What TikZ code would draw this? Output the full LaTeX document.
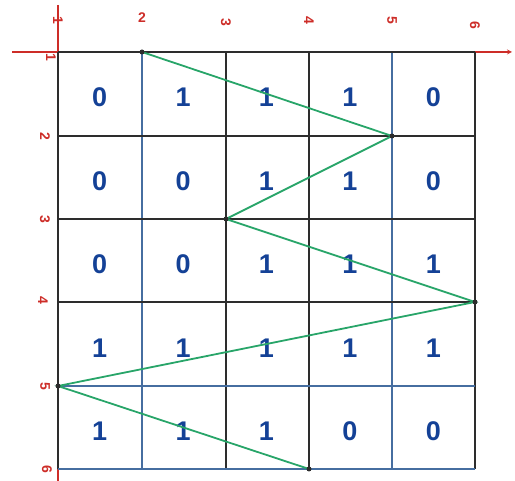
\documentclass[tikz,border=0pt]{standalone}
\usepackage{xcolor}
\usepackage{fontspec}
\usepackage{tikz}

\newfontfamily\handfont{Liberation Sans}

\definecolor{axisred}{RGB}{205,45,40}
\definecolor{linegreen}{RGB}{40,165,105}
\definecolor{inkblue}{RGB}{20,65,150}
\definecolor{gridblue}{RGB}{70,110,160}
\definecolor{gridblack}{RGB}{45,45,45}

\tikzset{
    bit/.style={text=inkblue, font=\handfont\bfseries\fontsize{27}{27}\selectfont, inner sep=0pt},
    tick/.style={text=axisred, font=\handfont\bfseries\fontsize{14}{14}\selectfont, inner sep=0pt, rotate=-90},
    gline/.style={gridblack, line width=1.8pt},
    bline/.style={gridblue, line width=1.8pt},
}

\begin{document}
\begin{tikzpicture}[x=1pt, y=-1pt, >=stealth]
    \useasboundingbox (0,0) rectangle (515,481);

    % 1. Red axes
    \draw[axisred, line width=1.2pt, ->] (12,52) -- (512,52);
    \draw[axisred, line width=1.2pt] (58,5) -- (58,481);

    % 2. Grid lines
    \foreach \x/\st in {58/gline, 142/bline, 226/gline, 309/gline, 392/bline, 475/gline}
        \draw[\st] (\x,52) -- (\x,469);
    \foreach \y/\st in {52/gline, 136/gline, 219/gline, 302/gline, 386/bline, 469/bline}
        \draw[\st] (58,\y) -- (475,\y);

    % 3. Axis labels
    \node[tick] (tx1) at (58,20) {1};
    \node[tick, rotate=90] (tx2) at (142,18) {2};
    \node[tick] (tx3) at (226,22) {3};
    \node[tick] (tx4) at (309,20) {4};
    \node[tick] (tx5) at (392,20) {5};
    \node[tick] (tx6) at (475,25) {6};
    \node[tick] (ty1) at (51,57) {1};
    \node[tick] (ty2) at (45,136) {2};
    \node[tick] (ty3) at (45,219) {3};
    \node[tick] (ty4) at (43,300) {4};
    \node[tick] (ty5) at (45,386) {5};
    \node[tick] (ty6) at (47,469) {6};

    % 4. Cell values
    \foreach \r/\a/\b/\c/\d/\e in {1/0/1/1/1/0, 2/0/0/1/1/0, 3/0/0/1/1/1, 4/1/1/1/1/1, 5/1/1/1/0/0}
        \foreach \v [count=\k] in {\a,\b,\c,\d,\e}
            \node[bit] (c\r\k) at ({58+83.4*(\k-0.5)}, {52+83.4*(\r-0.5)+4}) {\v};

    % 5. Zigzag path
    \coordinate (z1) at (142,52);
    \coordinate (z2) at (392,136);
    \coordinate (z3) at (226,219);
    \coordinate (z4) at (475,302);
    \coordinate (z5) at (58,386);
    \coordinate (z6) at (309,469);
    \draw[linegreen, line width=1.8pt] (z1) -- (z2) -- (z3) -- (z4) -- (z5) -- (z6);
    \foreach \p in {z1,z2,z3,z4,z5,z6}
        \fill[gridblack] (\p) circle (2.5pt);
\end{tikzpicture}
\end{document}
